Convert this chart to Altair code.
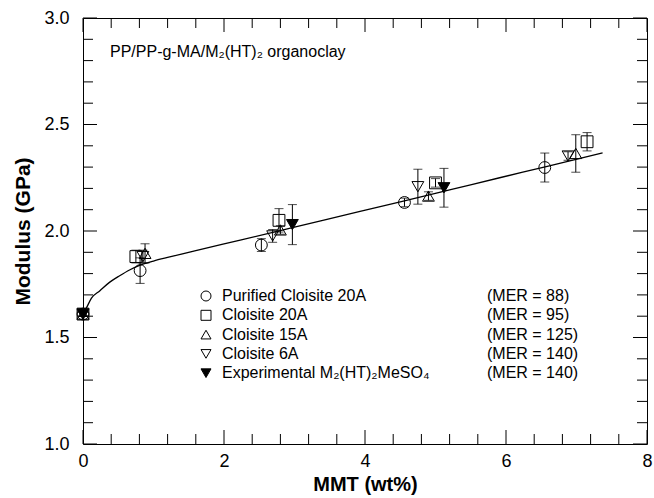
import altair as alt
import pandas as pd
import numpy as np

# ---------------- data ----------------
series_names = ["Purified Cloisite 20A", "Cloisite 20A", "Cloisite 15A",
                "Cloisite 6A", "Experimental M₂(HT)₂MeSO₄"]
mer_labels = ["(MER = 88)", "(MER = 95)", "(MER = 125)", "(MER = 140)", "(MER = 140)"]
shapes = ["circle", "square", "triangle-up", "triangle-down", "triangle-down"]
fills = ["transparent", "transparent", "transparent", "transparent", "black"]

p20_x = [0.0, 0.81, 2.53, 4.56, 6.55]
p20_y = [1.61, 1.814, 1.934, 2.134, 2.298]
p20_e = [0.01, 0.06, 0.03, 0.02, 0.068]

c20_x = [0.0, 0.75, 2.78, 5.00, 7.15]
c20_y = [1.61, 1.88, 2.05, 2.226, 2.419]
c20_e = [0.01, 0.03, 0.055, 0.02, 0.043]

c15_x = [0.0, 0.88, 2.80, 4.90, 6.99]
c15_y = [1.61, 1.895, 2.005, 2.164, 2.364]
c15_e = [0.01, 0.045, 0.02, 0.02, 0.088]

c6_x = [0.0, 0.85, 2.69, 4.75, 6.88]
c6_y = [1.61, 1.88, 1.977, 2.208, 2.352]
c6_e = [0.01, 0.03, 0.03, 0.082, 0.02]

exp_x = [0.0, 2.97, 5.12]
exp_y = [1.61, 2.03, 2.203]
exp_e = [0.01, 0.094, 0.091]

curve_x = [0, 0.05, 0.12, 0.24, 0.38, 0.52, 0.66, 0.81, 1.0, 1.23, 1.6, 2.23,
           3.0, 3.93, 4.5, 5.2, 5.91, 6.6, 7.37]
curve_y = [1.61, 1.64, 1.685, 1.72, 1.76, 1.79, 1.817, 1.84, 1.859, 1.878, 1.908,
           1.957, 2.018, 2.092, 2.137, 2.193, 2.25, 2.305, 2.367]

x_tick_labels = [0, 2, 4, 6, 8]
y_tick_labels = [1.0, 1.5, 2.0, 2.5, 3.0]
annotation = "PP/PP-g-MA/M₂(HT)₂ organoclay"

# ---------------- layout ----------------
W, H = 564, 426
FONT = "Liberation Sans"
xs = alt.Scale(domain=[0, 8], nice=False, zero=False)
ys = alt.Scale(domain=[1, 3], nice=False, zero=False)
shape_scale = alt.Scale(domain=series_names, range=shapes)
fill_scale = alt.Scale(domain=series_names, range=fills)

xaxis = alt.Axis(values=x_tick_labels, format="d", ticks=False, domain=False, grid=False,
                 tickSize=0, labelPadding=8, labelFontSize=18, labelFlush=False,
                 title="MMT (wt%)", titleFontSize=20, titleFontWeight="bold", titlePadding=4)
yaxis = alt.Axis(values=y_tick_labels, format=".1f", ticks=False, domain=False, grid=False,
                 tickSize=0, labelPadding=14, labelFontSize=18, labelFlush=False,
                 title="Modulus (GPa)", titleFontSize=21, titleFontWeight="bold", titlePadding=10)

def X(field):
    return alt.X(field, scale=xs, axis=xaxis)

def Y(field):
    return alt.Y(field, scale=ys, axis=yaxis)

rows = []
for name, xv, yv, ev in zip(series_names,
                            [p20_x, c20_x, c15_x, c6_x, exp_x],
                            [p20_y, c20_y, c15_y, c6_y, exp_y],
                            [p20_e, c20_e, c15_e, c6_e, exp_e]):
    for x, y, e in zip(xv, yv, ev):
        rows.append({"series": name, "x": x, "y": y, "lo": y - e, "hi": y + e})
df = pd.DataFrame(rows)
curve = pd.DataFrame({"x": curve_x, "y": curve_y})

base = alt.Chart(df)

err = base.mark_rule(color="black", strokeWidth=1).encode(
    x=X("x:Q"), y=Y("lo:Q"), y2="hi:Q",
)
cap_lo = base.mark_tick(orient="horizontal", size=9, thickness=1, color="black").encode(
    x=X("x:Q"), y=Y("lo:Q"),
)
cap_hi = base.mark_tick(orient="horizontal", size=9, thickness=1, color="black").encode(
    x=X("x:Q"), y=Y("hi:Q"),
)
line = alt.Chart(curve).mark_line(color="black", strokeWidth=1.3, interpolate="monotone").encode(
    x=X("x:Q"), y=Y("y:Q"),
)
pts = base.mark_point(size=140, stroke="black", strokeWidth=1, opacity=1, fillOpacity=1).encode(
    x=X("x:Q"), y=Y("y:Q"),
    shape=alt.Shape("series:N", scale=shape_scale, legend=None),
    fill=alt.Fill("series:N", scale=fill_scale, legend=None),
)

# ---- manual legend (positions in data units) ----
px_per_x = W / 8.0
px_per_y = H / 2.0
def gx(px):
    return px / px_per_x
def gy(py):
    return 3.0 - py / px_per_y

leg_row0, leg_step = 278, 19.3
leg = pd.DataFrame({
    "series": series_names,
    "mer": mer_labels,
    "sx": [gx(123)] * 5,
    "tx": [gx(139)] * 5,
    "mx": [gx(404)] * 5,
    "ly": [gy(leg_row0 + i * leg_step) for i in range(5)],
})
lbase = alt.Chart(leg)
leg_pts = lbase.mark_point(size=100, stroke="black", strokeWidth=1, opacity=1, fillOpacity=1).encode(
    x=X("sx:Q"), y=Y("ly:Q"),
    shape=alt.Shape("series:N", scale=shape_scale, legend=None),
    fill=alt.Fill("series:N", scale=fill_scale, legend=None),
)
leg_txt = lbase.mark_text(align="left", baseline="middle", font=FONT, fontSize=16, color="black").encode(
    x=X("tx:Q"), y=Y("ly:Q"), text="series:N",
)
leg_mer = lbase.mark_text(align="left", baseline="middle", font=FONT, fontSize=16, color="black").encode(
    x=X("mx:Q"), y=Y("ly:Q"), text="mer:N",
)
ann = alt.Chart(pd.DataFrame({"t": [annotation], "x": [gx(27)], "y": [gy(34)]})).mark_text(
    align="left", baseline="middle", font=FONT, fontSize=16, color="black").encode(
    x=X("x:Q"), y=Y("y:Q"), text="t:N",
)

# ---- inward ticks on all four sides ----
y_major = [1.0, 1.5, 2.0, 2.5, 3.0]
y_minor = [round(v, 1) for v in np.arange(1.1, 3.0, 0.1) if round(v * 10) % 5 != 0]
x_major = [0, 2, 4, 6, 8]
x_minor = [round(v, 1) for v in np.arange(0.4, 8.0, 0.4) if round(v * 10) % 20 != 0]

def ticks(vals, axis, side, length):
    c = alt.Chart(pd.DataFrame({"v": vals})).mark_rule(color="black", strokeWidth=1)
    if axis == "y":
        x0 = 0 if side == "a" else W
        x1 = length if side == "a" else W - length
        return c.encode(y=Y("v:Q"), x=alt.value(x0), x2=alt.value(x1))
    y0 = H if side == "a" else 0
    y1 = H - length if side == "a" else length
    return c.encode(x=X("v:Q"), y=alt.value(y0), y2=alt.value(y1))

tick_layers = []
for side in ["a", "b"]:
    tick_layers.append(ticks(y_major, "y", side, 14))
    tick_layers.append(ticks(y_minor, "y", side, 10))
    tick_layers.append(ticks(x_major, "x", side, 14))
    tick_layers.append(ticks(x_minor, "x", side, 10))

chart = alt.layer(err, cap_lo, cap_hi, line, pts, leg_pts, leg_txt, leg_mer, ann, *tick_layers).properties(
    width=W, height=H,
    autosize=alt.AutoSizeParams(type="none"),
    padding={"left": 83, "top": 18, "right": 7, "bottom": 54},
    background="white",
).configure_view(stroke="black", strokeWidth=1).configure_axis(
    labelFont=FONT, titleFont=FONT, labelColor="black", titleColor="black"
)

chart.save("out.html", embed_options={"renderer": "svg", "actions": False})
